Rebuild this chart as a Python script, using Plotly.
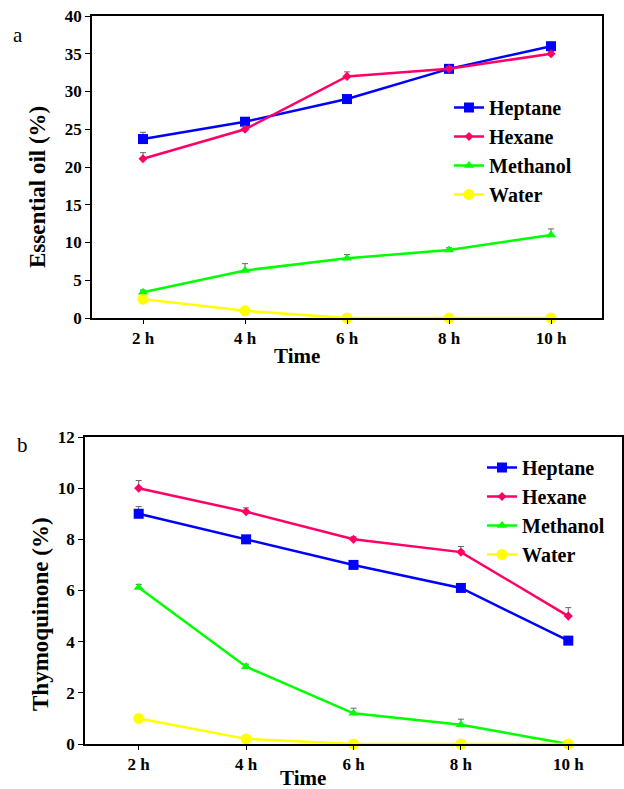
import plotly.graph_objects as go

categories = ["2 h", "4 h", "6 h", "8 h", "10 h"]
series_names = ["Heptane", "Hexane", "Methanol", "Water"]

# Panel a: Essential oil (%)
oil_heptane = [23.7, 26.0, 29.0, 33.0, 36.0]
oil_hexane = [21.1, 25.0, 32.0, 33.0, 35.0]
oil_methanol = [3.4, 6.3, 7.9, 9.0, 11.0]
oil_water = [2.5, 0.95, 0.0, 0.0, 0.0]
oil_err_heptane = [0.9, 0.4, 0.4, 0.3, 0.3]
oil_err_hexane = [0.8, 0.4, 0.6, 0.3, 0.3]
oil_err_methanol = [0.3, 0.9, 0.5, 0.3, 0.8]
oil_err_water = [0.2, 0.1, 0.0, 0.0, 0.0]

# Panel b: Thymoquinone (%)
tq_heptane = [9.0, 8.0, 7.0, 6.1, 4.04]
tq_hexane = [10.0, 9.08, 8.0, 7.5, 5.0]
tq_methanol = [6.12, 3.02, 1.2, 0.75, 0.0]
tq_water = [1.0, 0.2, 0.0, 0.0, 0.0]
tq_err_heptane = [0.28, 0.1, 0.1, 0.1, 0.1]
tq_err_hexane = [0.3, 0.15, 0.1, 0.22, 0.33]
tq_err_methanol = [0.12, 0.1, 0.2, 0.22, 0.0]
tq_err_water = [0.05, 0.05, 0.0, 0.0, 0.0]

# only the upper whisker is drawn in the original
err_minus = [0, 0, 0, 0, 0]

colors = ["#0000FF", "#FF0066", "#00FF00", "#FFFF00"]
symbols = ["square", "diamond", "triangle-up", "circle"]
msizes = [10, 7, 9, 11]

W, H = 624, 789
FONT = "Liberation Serif"

fig = go.Figure()

panels = [
    ("x", "y", "legend", [oil_heptane, oil_hexane, oil_methanol, oil_water],
     [oil_err_heptane, oil_err_hexane, oil_err_methanol, oil_err_water]),
    ("x2", "y2", "legend2", [tq_heptane, tq_hexane, tq_methanol, tq_water],
     [tq_err_heptane, tq_err_hexane, tq_err_methanol, tq_err_water]),
]

for xa, ya, leg, vals, errs in panels:
    for i, name in enumerate(series_names):
        fig.add_trace(go.Scatter(
            x=categories, y=vals[i], name=name, xaxis=xa, yaxis=ya,
            mode="lines+markers",
            line=dict(color=colors[i], width=2.5),
            marker=dict(symbol=symbols[i], size=msizes[i], color=colors[i]),
            error_y=dict(type="data", array=errs[i], arrayminus=err_minus, symmetric=False,
                         color="#666666", thickness=1, width=3),
            cliponaxis=False,
            legend=leg,
        ))

def px_x(p):
    return p / W

def px_y(p):
    return 1 - p / H

axis_common = dict(
    showline=True, linecolor="black", linewidth=1.5, mirror=True,
    showgrid=False, zeroline=False, ticks="outside", tickcolor="black",
    automargin=False,
    tickfont=dict(family=FONT, size=17, color="black", weight="bold"),
)

leg_font = dict(family=FONT, size=20, color="black", weight="bold")

fig.update_layout(
    width=W, height=H, margin=dict(l=0, r=0, t=0, b=0, autoexpand=False),
    paper_bgcolor="white", plot_bgcolor="white", showlegend=True,
    xaxis=dict(domain=[px_x(92), px_x(602)], anchor="y", type="category",
               categoryorder="array", categoryarray=categories, range=[-0.5, 4.5],
               ticklen=4, **axis_common),
    yaxis=dict(domain=[px_y(318), px_y(16)], anchor="x", range=[0, 40], dtick=5,
               ticklen=5, **axis_common),
    xaxis2=dict(domain=[px_x(85), px_x(622)], anchor="y2", type="category",
                categoryorder="array", categoryarray=categories, range=[-0.5, 4.5],
                ticklen=4, **axis_common),
    yaxis2=dict(domain=[px_y(744), px_y(437)], anchor="x2", range=[0, 12], dtick=2,
                ticklen=5, **axis_common),
    legend=dict(x=px_x(449), y=px_y(88), xanchor="left", yanchor="top",
                font=leg_font, bgcolor="rgba(0,0,0,0)", itemwidth=30),
    legend2=dict(x=px_x(482), y=px_y(448), xanchor="left", yanchor="top",
                 font=leg_font, bgcolor="rgba(0,0,0,0)", itemwidth=30),
)

annots = [
    dict(text="a", x=px_x(18), y=px_y(35), font=dict(family=FONT, size=21, color="black")),
    dict(text="b", x=px_x(22), y=px_y(445), font=dict(family=FONT, size=21, color="black")),
    dict(text="Time", x=px_x(297), y=px_y(356), font=dict(family=FONT, size=21, color="black", weight="bold")),
    dict(text="Time", x=px_x(303), y=px_y(778), font=dict(family=FONT, size=21, color="black", weight="bold")),
    dict(text="Essential oil (%)", x=px_x(37), y=px_y(187), textangle=-90,
         font=dict(family=FONT, size=23, color="black", weight="bold")),
    dict(text="Thymoquinone (%)", x=px_x(40), y=px_y(614), textangle=-90,
         font=dict(family=FONT, size=23, color="black", weight="bold")),
]
for a in annots:
    fig.add_annotation(xref="paper", yref="paper", showarrow=False,
                       xanchor="center", yanchor="middle", **a)

fig.write_html("out.html", config={"displayModeBar": False},
               post_script="document.body.style.margin='0px';document.body.style.overflow='hidden';")
